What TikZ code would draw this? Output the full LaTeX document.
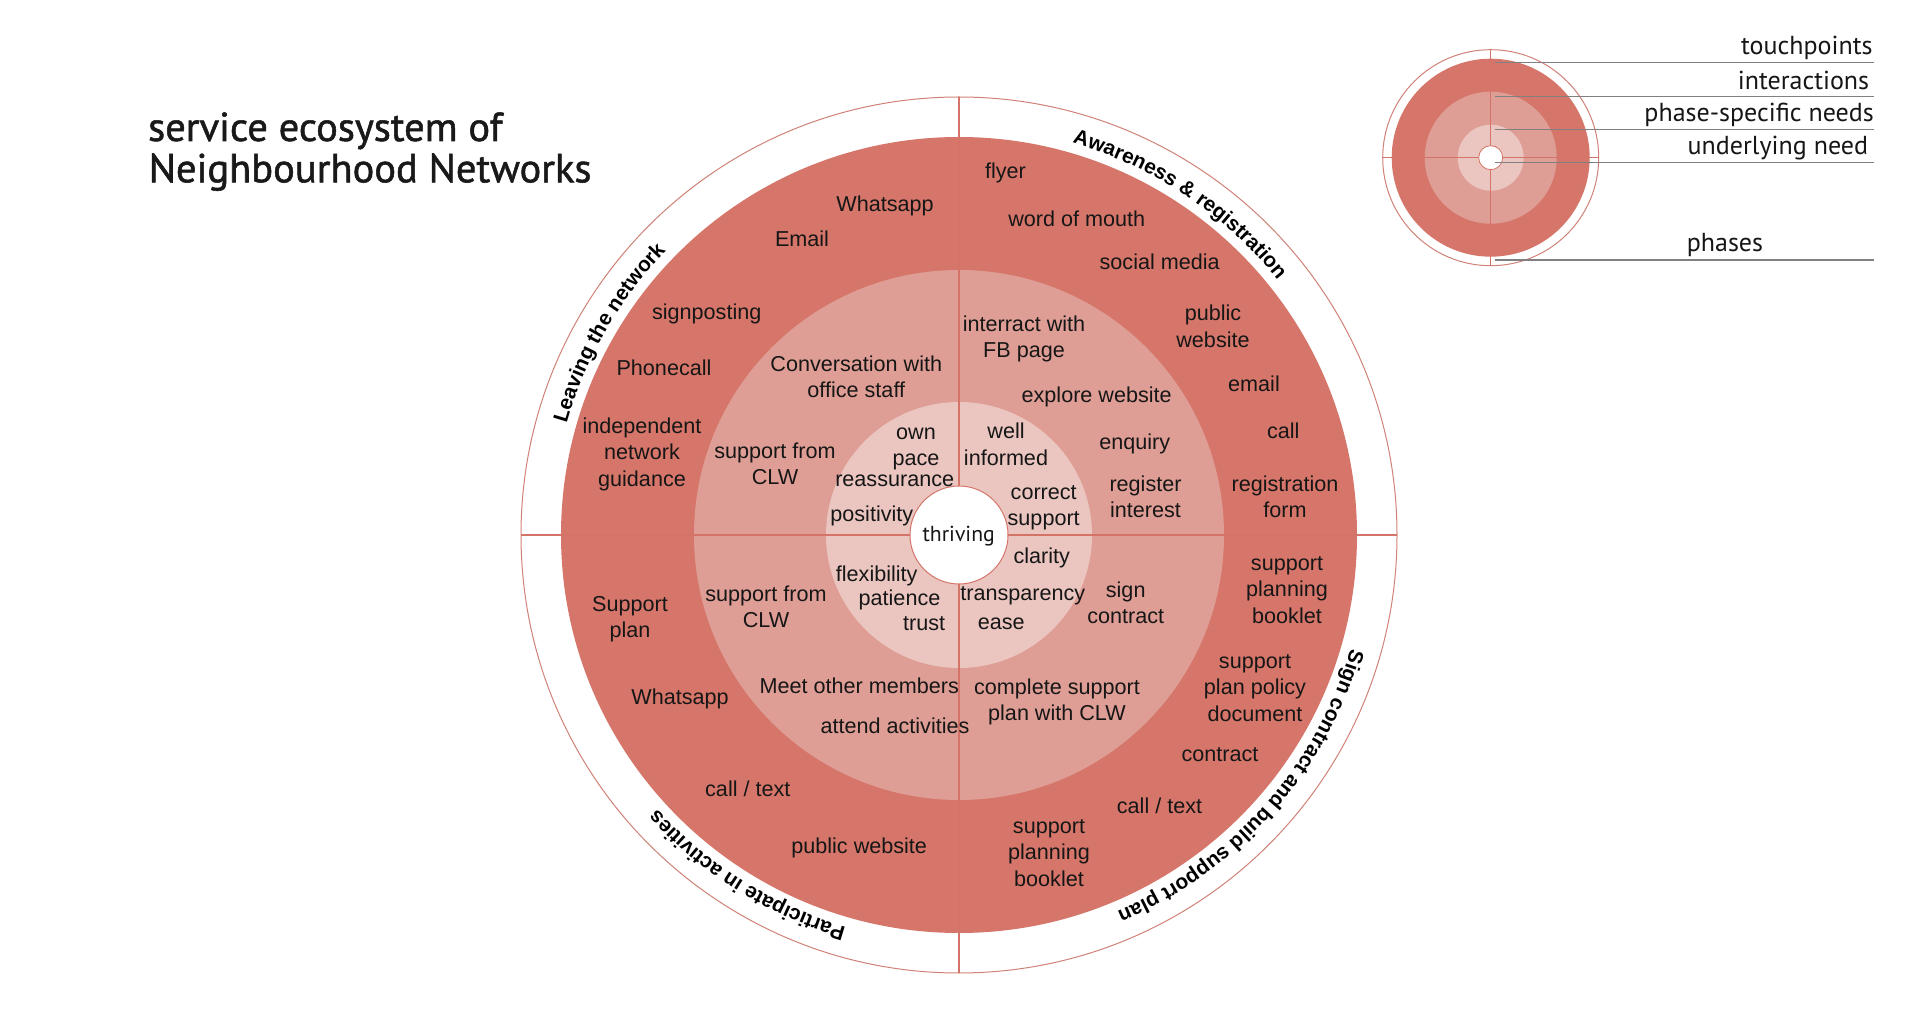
\documentclass[tikz,border=0pt]{standalone}
\usepackage{fontspec}
\setmainfont{Liberation Sans}
\newfontfamily\legfont{PT Sans}
\newfontfamily\titlefont{PT Sans}[FakeBold=1.3]
\usetikzlibrary{calc,decorations.text}
\definecolor{ringA}{RGB}{214,118,106}
\definecolor{ringB}{RGB}{223,158,149}
\definecolor{ringC}{RGB}{235,198,192}
\definecolor{lineRed}{RGB}{212,116,104}
\definecolor{rimRed}{RGB}{208,130,120}
\definecolor{txt}{RGB}{22,22,22}
\definecolor{legGray}{RGB}{128,128,128}
\tikzset{
  lbl/.style={font=\fontsize{21.6}{26.5}\selectfont, align=center, inner sep=0pt, text=txt},
  leglbl/.style={font=\legfont\fontsize{26}{30}\selectfont, inner sep=0pt, anchor=base east, text=txt},
  titlelbl/.style={font=\titlefont\fontsize{40.5}{41}\selectfont, inner sep=0pt, anchor=base west, text=black!90},
  crossline/.style={draw=lineRed, line width=1.1pt},
  rimline/.style={draw=rimRed, line width=1pt},
  legline/.style={draw=legGray, line width=1.4pt},
  phasetext/.style={decorate, decoration={text along path, text align=center,
      text={|\bfseries\fontsize{20.8}{24}\selectfont|#1}}}
}
\begin{document}
\begin{tikzpicture}[x=1pt,y=1pt]
\fill[white] (0,0) rectangle (1920,1018);
\useasboundingbox (0,0) rectangle (1920,1018);

% ---------- main wheel ----------
\coordinate (C) at (959,483);
\draw[rimline] (C) circle[radius=438pt];
\fill[ringA] (C) circle[radius=398pt];
\fill[ringB] (C) circle[radius=265pt];
\fill[ringC] (C) circle[radius=133pt];
\coordinate (Cw) at ($(C)+(-438pt,0)$);
\coordinate (Ce) at ($(C)+(438pt,0)$);
\coordinate (Cn) at ($(C)+(0,438pt)$);
\coordinate (Cs) at ($(C)+(0,-438pt)$);
\draw[crossline] (Cw) -- (Ce);
\draw[crossline] (Cn) -- (Cs);
\filldraw[fill=white, draw=lineRed, line width=1pt] (C) circle[radius=49pt];
\node[lbl, font=\legfont\fontsize{21.7}{26.5}\selectfont] (thriving) at (958.7,481.6) {\strut thriving\strut};

% phase labels along the rim
\path[phasetext={Awareness {\&} registration}] ($(C)+(76:408pt)$) arc[start angle=76, end angle=36.5, radius=408pt];
\path[phasetext={Sign contract and build support plan}] ($(C)+(-13.1:408pt)$) arc[start angle=-13.1, end angle=-70.3, radius=408pt];
\path[phasetext={Participate in activities}] ($(C)+(257.2:408pt)$) arc[start angle=257.2, end angle=219, radius=408pt];
\path[phasetext={Leaving the network}] ($(C)+(167.4:408pt)$) arc[start angle=167.4, end angle=132.6, radius=408pt];

% ---------- top-left quadrant: Leaving the network ----------
\node[lbl] (tlWhatsapp) at (885,811.6) {\strut Whatsapp\strut};
\node[lbl] (tlEmail) at (802,776.6) {\strut Email\strut};
\node[lbl] (tlSign) at (706.7,703.3) {\strut signposting\strut};
\node[lbl] (tlPhone) at (664,647.3) {\strut Phonecall\strut};
\node[lbl] (tlConv) at (856.3,638.6) {\strut Conversation with\\office staff\strut};
\node[lbl] (tlIndep) at (642,563.3) {\strut independent\\network\\guidance\strut};
\node[lbl] (tlCLW) at (775,551.6) {\strut support from\\CLW\strut};
\node[lbl] (tlOwn) at (916,570.8) {\strut own\\pace\strut};
\node[lbl] (tlReass) at (894.7,536.6) {\strut reassurance\strut};
\node[lbl] (tlPos) at (871.8,501.6) {\strut positivity\strut};

% ---------- top-right quadrant: Awareness & registration ----------
\node[lbl] (trFlyer) at (1005.5,844.3) {\strut flyer\strut};
\node[lbl] (trWord) at (1076.7,796.6) {\strut word of mouth\strut};
\node[lbl] (trSocial) at (1159.7,753.3) {\strut social media\strut};
\node[lbl] (trPublic) at (1213,689.1) {\strut public\\website\strut};
\node[lbl] (trEmail) at (1254,631.6) {\strut email\strut};
\node[lbl] (trCall) at (1283.3,585) {\strut call\strut};
\node[lbl] (trForm) at (1285,518.8) {\strut registration\\form\strut};
\node[lbl] (trFB) at (1024,678.8) {\strut interract with\\FB page\strut};
\node[lbl] (trExplore) at (1096.7,620.6) {\strut explore website\strut};
\node[lbl] (trWell) at (1006,571.1) {\strut well\\informed\strut};
\node[lbl] (trEnq) at (1134.7,573.3) {\strut enquiry\strut};
\node[lbl] (trReg) at (1145.5,518.8) {\strut register\\interest\strut};
\node[lbl] (trCorrect) at (1043.7,510.8) {\strut correct\\support\strut};

% ---------- bottom-left quadrant: Participate in activities ----------
\node[lbl] (blPlan) at (630,398.8) {\strut Support\\plan\strut};
\node[lbl] (blCLW) at (766,408.8) {\strut support from\\CLW\strut};
\node[lbl] (blFlex) at (876.7,441.6) {\strut flexibility\strut};
\node[lbl] (blPat) at (899.5,417.3) {\strut patience\strut};
\node[lbl] (blTrust) at (924.2,392.3) {\strut trust\strut};
\node[lbl] (blWhatsapp) at (680,318.3) {\strut Whatsapp\strut};
\node[lbl] (blMeet) at (859.2,329.3) {\strut Meet other members\strut};
\node[lbl] (blAttend) at (895,289.3) {\strut attend activities\strut};
\node[lbl] (blCall) at (747.8,226.6) {\strut call / text\strut};
\node[lbl] (blWeb) at (859.2,170) {\strut public website\strut};

% ---------- bottom-right quadrant: Sign contract and build support plan ----------
\node[lbl] (brClarity) at (1041.7,459.3) {\strut clarity\strut};
\node[lbl] (brTransp) at (1022.8,422.6) {\strut transparency\strut};
\node[lbl] (brEase) at (1001.2,393.3) {\strut ease\strut};
\node[lbl] (brSign) at (1125.7,412.8) {\strut sign\\contract\strut};
\node[lbl] (brBooklet) at (1287,426.4) {\strut support\\planning\\booklet\strut};
\node[lbl] (brPolicy) at (1255,328.6) {\strut support\\plan policy\\document\strut};
\node[lbl] (brComplete) at (1057,315.8) {\strut complete support\\plan with CLW\strut};
\node[lbl] (brContract) at (1220,261.6) {\strut contract\strut};
\node[lbl] (brCall) at (1159.5,210) {\strut call / text\strut};
\node[lbl] (brBooklet2) at (1049,163.5) {\strut support\\planning\\booklet\strut};

% ---------- title ----------
\node[titlelbl] (title1) at (148,877) {service ecosystem of};
\node[titlelbl] (title2) at (148.5,835.7) {Neighbourhood Networks};

% ---------- legend ----------
\coordinate (L) at (1490.7,860.3);
\draw[rimline] (L) circle[radius=108pt];
\fill[ringA] (L) circle[radius=99pt];
\fill[ringB] (L) circle[radius=66pt];
\fill[ringC] (L) circle[radius=33pt];
\coordinate (Lw) at ($(L)+(-108pt,0)$);
\coordinate (Le) at ($(L)+(108pt,0)$);
\coordinate (Ln) at ($(L)+(0,108pt)$);
\coordinate (Ls) at ($(L)+(0,-108pt)$);
\draw[draw=lineRed, line width=0.9pt] (Lw) -- (Le);
\draw[draw=lineRed, line width=0.9pt] (Ln) -- (Ls);
\filldraw[fill=white, draw=lineRed, line width=0.8pt] (L) circle[radius=12pt];

\coordinate (a1) at (1495,955.3); \coordinate (b1) at (1874,955.3);
\coordinate (a2) at (1495,921.3); \coordinate (b2) at (1874,921.3);
\coordinate (a3) at (1495,888.7); \coordinate (b3) at (1874,888.7);
\coordinate (a4) at (1495,855.3); \coordinate (b4) at (1874,855.3);
\coordinate (a5) at (1495,758);   \coordinate (b5) at (1874,758);
\draw[legline] (a1) -- (b1);
\draw[legline] (a2) -- (b2);
\draw[legline] (a3) -- (b3);
\draw[legline] (a4) -- (b4);
\draw[legline] (a5) -- (b5);
\node[leglbl] (lgTouch) at (1872.7,963) {touchpoints};
\node[leglbl] (lgInter) at (1869.3,928.7) {interactions};
\node[leglbl] (lgPhase) at (1874,896.3) {phase-specific needs};
\node[leglbl] (lgUnder) at (1868.3,863.7) {underlying need};
\node[leglbl] (lgPhases) at (1763.3,766.3) {phases};
\end{tikzpicture}
\end{document}
